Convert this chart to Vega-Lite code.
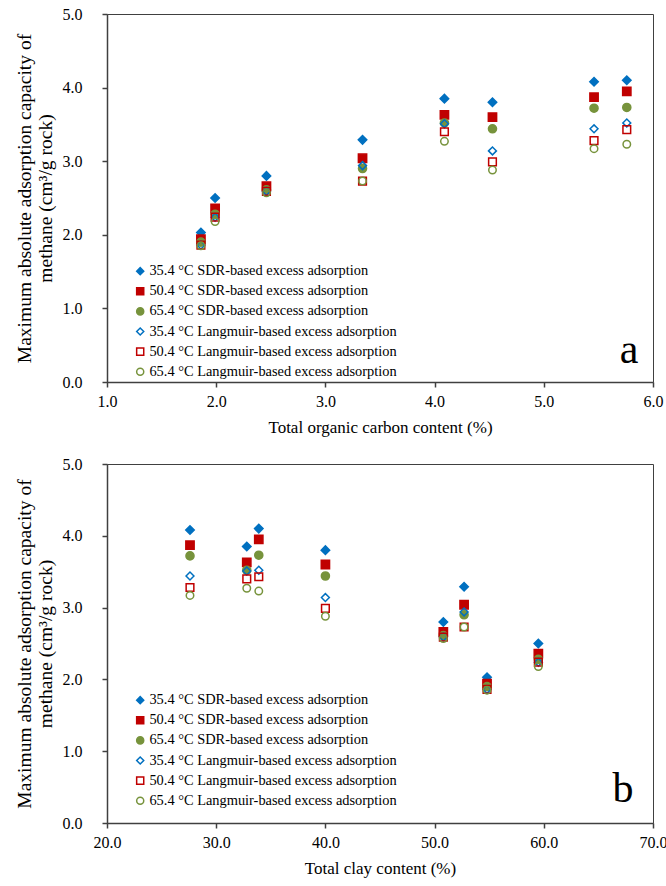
{
  "$schema": "https://vega.github.io/schema/vega-lite/v6.json",
  "padding": {"left": 13, "top": 5, "right": 0, "bottom": 5},
  "config": {
    "font": "Liberation Serif",
    "view": {"stroke": "#404040", "strokeWidth": 1},
    "axis": {
      "grid": false,
      "domainColor": "#404040",
      "domainWidth": 1.5,
      "tickColor": "#404040",
      "tickWidth": 1.5,
      "tickSize": 5,
      "labelColor": "#000000",
      "titleColor": "#000000",
      "labelFont": "Liberation Serif",
      "titleFont": "Liberation Serif",
      "labelFontSize": 16,
      "titleFontSize": 17,
      "titleFontWeight": "normal",
      "labelFlush": false,
      "labelOverlap": false
    },
    "legend": {
      "labelFont": "Liberation Serif",
      "labelFontSize": 14.4,
      "labelColor": "#000000",
      "symbolSize": 50,
      "symbolStrokeWidth": 1.5,
      "rowPadding": 5.1,
      "padding": 0,
      "labelOffset": 2,
      "labelLimit": 400
    }
  },
  "datasets": {
    "pts": [
      {"s": "35.4 °C SDR-based excess adsorption", "toc": 1.86, "clay": 54.8, "q": 2.03},
      {"s": "35.4 °C SDR-based excess adsorption", "toc": 1.99, "clay": 59.5, "q": 2.50},
      {"s": "35.4 °C SDR-based excess adsorption", "toc": 2.46, "clay": 50.8, "q": 2.80},
      {"s": "35.4 °C SDR-based excess adsorption", "toc": 3.34, "clay": 52.7, "q": 3.29},
      {"s": "35.4 °C SDR-based excess adsorption", "toc": 4.09, "clay": 32.8, "q": 3.85},
      {"s": "35.4 °C SDR-based excess adsorption", "toc": 4.53, "clay": 40.0, "q": 3.80},
      {"s": "35.4 °C SDR-based excess adsorption", "toc": 5.46, "clay": 27.6, "q": 4.08},
      {"s": "35.4 °C SDR-based excess adsorption", "toc": 5.76, "clay": 33.9, "q": 4.10},
      {"s": "50.4 °C SDR-based excess adsorption", "toc": 1.86, "clay": 54.8, "q": 1.94},
      {"s": "50.4 °C SDR-based excess adsorption", "toc": 1.99, "clay": 59.5, "q": 2.36},
      {"s": "50.4 °C SDR-based excess adsorption", "toc": 2.46, "clay": 50.8, "q": 2.66},
      {"s": "50.4 °C SDR-based excess adsorption", "toc": 3.34, "clay": 52.7, "q": 3.04},
      {"s": "50.4 °C SDR-based excess adsorption", "toc": 4.09, "clay": 32.8, "q": 3.63},
      {"s": "50.4 °C SDR-based excess adsorption", "toc": 4.53, "clay": 40.0, "q": 3.60},
      {"s": "50.4 °C SDR-based excess adsorption", "toc": 5.46, "clay": 27.6, "q": 3.87},
      {"s": "50.4 °C SDR-based excess adsorption", "toc": 5.76, "clay": 33.9, "q": 3.95},
      {"s": "65.4 °C SDR-based excess adsorption", "toc": 1.86, "clay": 54.8, "q": 1.90},
      {"s": "65.4 °C SDR-based excess adsorption", "toc": 1.99, "clay": 59.5, "q": 2.28},
      {"s": "65.4 °C SDR-based excess adsorption", "toc": 2.46, "clay": 50.8, "q": 2.61},
      {"s": "65.4 °C SDR-based excess adsorption", "toc": 3.34, "clay": 52.7, "q": 2.90},
      {"s": "65.4 °C SDR-based excess adsorption", "toc": 4.09, "clay": 32.8, "q": 3.52},
      {"s": "65.4 °C SDR-based excess adsorption", "toc": 4.53, "clay": 40.0, "q": 3.44},
      {"s": "65.4 °C SDR-based excess adsorption", "toc": 5.46, "clay": 27.6, "q": 3.72},
      {"s": "65.4 °C SDR-based excess adsorption", "toc": 5.76, "clay": 33.9, "q": 3.73},
      {"s": "35.4 °C Langmuir-based excess adsorption", "toc": 1.86, "clay": 54.8, "q": 1.86},
      {"s": "35.4 °C Langmuir-based excess adsorption", "toc": 1.99, "clay": 59.5, "q": 2.24},
      {"s": "35.4 °C Langmuir-based excess adsorption", "toc": 2.46, "clay": 50.8, "q": 2.59},
      {"s": "35.4 °C Langmuir-based excess adsorption", "toc": 3.34, "clay": 52.7, "q": 2.94},
      {"s": "35.4 °C Langmuir-based excess adsorption", "toc": 4.09, "clay": 32.8, "q": 3.51},
      {"s": "35.4 °C Langmuir-based excess adsorption", "toc": 4.53, "clay": 40.0, "q": 3.14},
      {"s": "35.4 °C Langmuir-based excess adsorption", "toc": 5.46, "clay": 27.6, "q": 3.44},
      {"s": "35.4 °C Langmuir-based excess adsorption", "toc": 5.76, "clay": 33.9, "q": 3.52},
      {"s": "50.4 °C Langmuir-based excess adsorption", "toc": 1.86, "clay": 54.8, "q": 1.86},
      {"s": "50.4 °C Langmuir-based excess adsorption", "toc": 1.99, "clay": 59.5, "q": 2.24},
      {"s": "50.4 °C Langmuir-based excess adsorption", "toc": 2.46, "clay": 50.8, "q": 2.59},
      {"s": "50.4 °C Langmuir-based excess adsorption", "toc": 3.34, "clay": 52.7, "q": 2.73},
      {"s": "50.4 °C Langmuir-based excess adsorption", "toc": 4.09, "clay": 32.8, "q": 3.40},
      {"s": "50.4 °C Langmuir-based excess adsorption", "toc": 4.53, "clay": 40.0, "q": 2.99},
      {"s": "50.4 °C Langmuir-based excess adsorption", "toc": 5.46, "clay": 27.6, "q": 3.28},
      {"s": "50.4 °C Langmuir-based excess adsorption", "toc": 5.76, "clay": 33.9, "q": 3.43},
      {"s": "65.4 °C Langmuir-based excess adsorption", "toc": 1.86, "clay": 54.8, "q": 1.85},
      {"s": "65.4 °C Langmuir-based excess adsorption", "toc": 1.99, "clay": 59.5, "q": 2.18},
      {"s": "65.4 °C Langmuir-based excess adsorption", "toc": 2.46, "clay": 50.8, "q": 2.57},
      {"s": "65.4 °C Langmuir-based excess adsorption", "toc": 3.34, "clay": 52.7, "q": 2.73},
      {"s": "65.4 °C Langmuir-based excess adsorption", "toc": 4.09, "clay": 32.8, "q": 3.27},
      {"s": "65.4 °C Langmuir-based excess adsorption", "toc": 4.53, "clay": 40.0, "q": 2.88},
      {"s": "65.4 °C Langmuir-based excess adsorption", "toc": 5.46, "clay": 27.6, "q": 3.17},
      {"s": "65.4 °C Langmuir-based excess adsorption", "toc": 5.76, "clay": 33.9, "q": 3.23}
    ]
  },
  "spacing": 19,
  "resolve": {"legend": {"fill": "independent", "stroke": "independent", "shape": "independent"}},
  "vconcat": [
    {
      "width": 546,
      "height": 368,
      "layer": [
        {
          "data": {"name": "pts"},
          "mark": {"type": "point", "filled": true, "strokeWidth": 1.5, "opacity": 1},
          "encoding": {
            "x": {"field": "toc", "type": "quantitative", "scale": {"domain": [1, 6], "nice": false},
                  "axis": {"values": [1, 2, 3, 4, 5, 6], "format": ".1f", "title": "Total organic carbon content (%)", "labelPadding": 6, "titlePadding": 10}},
            "y": {"field": "q", "type": "quantitative", "scale": {"domain": [0, 5], "nice": false},
                  "axis": {"values": [0, 1, 2, 3, 4, 5], "format": ".1f", "title": ["Maximum absolute  adsorption capacity of", "methane (cm³/g rock)"], "labelPadding": 20, "titlePadding": 7, "titleFontSize": 19.5, "titleLineHeight": 21}},
            "shape": {"field": "s", "type": "nominal", "sort": null,
                      "scale": {"domain": ["35.4 °C SDR-based excess adsorption", "50.4 °C SDR-based excess adsorption", "65.4 °C SDR-based excess adsorption", "35.4 °C Langmuir-based excess adsorption", "50.4 °C Langmuir-based excess adsorption", "65.4 °C Langmuir-based excess adsorption"],
                                "range": ["diamond", "square", "circle", "diamond", "square", "circle"]},
                      "legend": {"title": null, "orient": "none", "legendX": 26, "legendY": 250}},
            "fill": {"field": "s", "type": "nominal", "sort": null,
                     "scale": {"domain": ["35.4 °C SDR-based excess adsorption", "50.4 °C SDR-based excess adsorption", "65.4 °C SDR-based excess adsorption", "35.4 °C Langmuir-based excess adsorption", "50.4 °C Langmuir-based excess adsorption", "65.4 °C Langmuir-based excess adsorption"],
                               "range": ["#0070C0", "#C00000", "#77933C", "transparent", "transparent", "transparent"]},
                     "legend": {"title": null, "orient": "none", "legendX": 26, "legendY": 250}},
            "stroke": {"field": "s", "type": "nominal", "sort": null,
                       "scale": {"domain": ["35.4 °C SDR-based excess adsorption", "50.4 °C SDR-based excess adsorption", "65.4 °C SDR-based excess adsorption", "35.4 °C Langmuir-based excess adsorption", "50.4 °C Langmuir-based excess adsorption", "65.4 °C Langmuir-based excess adsorption"],
                                 "range": ["#0070C0", "#C00000", "#77933C", "#0070C0", "#C00000", "#77933C"]},
                       "legend": {"title": null, "orient": "none", "legendX": 26, "legendY": 250}},
            "size": {"field": "s", "type": "nominal", "sort": null, "legend": null,
                     "scale": {"domain": ["35.4 °C SDR-based excess adsorption", "50.4 °C SDR-based excess adsorption", "65.4 °C SDR-based excess adsorption", "35.4 °C Langmuir-based excess adsorption", "50.4 °C Langmuir-based excess adsorption", "65.4 °C Langmuir-based excess adsorption"],
                               "range": [72, 56, 42, 72, 90, 110]}}
          }
        },
        {
          "data": {"values": [{}]},
          "mark": {"type": "text", "font": "Liberation Serif", "fontSize": 42, "align": "center", "baseline": "alphabetic", "color": "#000000"},
          "encoding": {
            "x": {"datum": 5.78, "type": "quantitative"},
            "y": {"datum": 0.26, "type": "quantitative"},
            "text": {"value": "a"}
          }
        }
      ]
    },
    {
      "width": 546,
      "height": 359,
      "layer": [
        {
          "data": {"name": "pts"},
          "mark": {"type": "point", "filled": true, "strokeWidth": 1.5, "opacity": 1},
          "encoding": {
            "x": {"field": "clay", "type": "quantitative", "scale": {"domain": [20, 70], "nice": false},
                  "axis": {"values": [20, 30, 40, 50, 60, 70], "format": ".1f", "title": "Total clay content (%)", "labelPadding": 6, "titlePadding": 10}},
            "y": {"field": "q", "type": "quantitative", "scale": {"domain": [0, 5], "nice": false},
                  "axis": {"values": [0, 1, 2, 3, 4, 5], "format": ".1f", "title": ["Maximum absolute  adsorption capacity of", "methane (cm³/g rock)"], "labelPadding": 20, "titlePadding": 7, "titleFontSize": 19.5, "titleLineHeight": 21}},
            "shape": {"field": "s", "type": "nominal", "sort": null,
                      "scale": {"domain": ["35.4 °C SDR-based excess adsorption", "50.4 °C SDR-based excess adsorption", "65.4 °C SDR-based excess adsorption", "35.4 °C Langmuir-based excess adsorption", "50.4 °C Langmuir-based excess adsorption", "65.4 °C Langmuir-based excess adsorption"],
                                "range": ["diamond", "square", "circle", "diamond", "square", "circle"]},
                      "legend": {"title": null, "orient": "none", "legendX": 26, "legendY": 229}},
            "fill": {"field": "s", "type": "nominal", "sort": null,
                     "scale": {"domain": ["35.4 °C SDR-based excess adsorption", "50.4 °C SDR-based excess adsorption", "65.4 °C SDR-based excess adsorption", "35.4 °C Langmuir-based excess adsorption", "50.4 °C Langmuir-based excess adsorption", "65.4 °C Langmuir-based excess adsorption"],
                               "range": ["#0070C0", "#C00000", "#77933C", "transparent", "transparent", "transparent"]},
                     "legend": {"title": null, "orient": "none", "legendX": 26, "legendY": 229}},
            "stroke": {"field": "s", "type": "nominal", "sort": null,
                       "scale": {"domain": ["35.4 °C SDR-based excess adsorption", "50.4 °C SDR-based excess adsorption", "65.4 °C SDR-based excess adsorption", "35.4 °C Langmuir-based excess adsorption", "50.4 °C Langmuir-based excess adsorption", "65.4 °C Langmuir-based excess adsorption"],
                                 "range": ["#0070C0", "#C00000", "#77933C", "#0070C0", "#C00000", "#77933C"]},
                       "legend": {"title": null, "orient": "none", "legendX": 26, "legendY": 229}},
            "size": {"field": "s", "type": "nominal", "sort": null, "legend": null,
                     "scale": {"domain": ["35.4 °C SDR-based excess adsorption", "50.4 °C SDR-based excess adsorption", "65.4 °C SDR-based excess adsorption", "35.4 °C Langmuir-based excess adsorption", "50.4 °C Langmuir-based excess adsorption", "65.4 °C Langmuir-based excess adsorption"],
                               "range": [72, 56, 42, 72, 90, 110]}}
          }
        },
        {
          "data": {"values": [{}]},
          "mark": {"type": "text", "font": "Liberation Serif", "fontSize": 42, "align": "center", "baseline": "alphabetic", "color": "#000000"},
          "encoding": {
            "x": {"datum": 67.25, "type": "quantitative"},
            "y": {"datum": 0.29, "type": "quantitative"},
            "text": {"value": "b"}
          }
        }
      ]
    }
  ]
}
